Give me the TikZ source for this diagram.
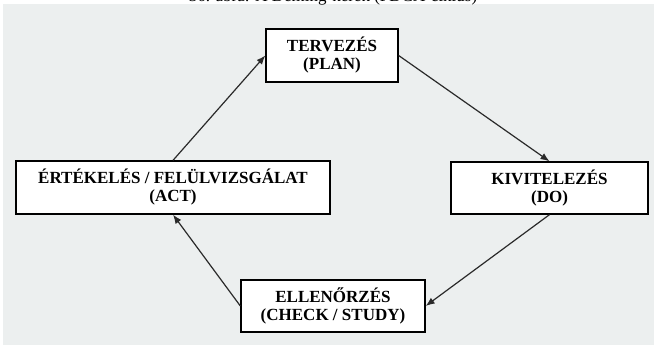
\documentclass[tikz,border=0pt]{standalone}
\usepackage{fontspec}
\setmainfont{Liberation Serif}
\usetikzlibrary{arrows.meta}
\definecolor{bggray}{HTML}{ECEFEF}
\definecolor{linegray}{HTML}{2A2A2A}
\tikzset{
  stagebox/.style={draw=black, line width=1.3pt, fill=white, inner sep=0pt,
    align=center, font=\bfseries\fontsize{17}{18}\selectfont},
  flow/.style={draw=linegray, line width=1.2pt, -{Latex[length=9pt,width=7pt]}}
}
\begin{document}
\begin{tikzpicture}[x=1pt,y=-1pt]
\useasboundingbox (0,0) rectangle (654,345);
\fill[bggray] (3,4) rectangle (654,345);
\node[anchor=base, font=\fontsize{17}{18}\selectfont, inner sep=0pt] (title) at (333,1.5) {36. ábra: A Deming-kerék (PDCA-ciklus)};
\node[stagebox, minimum width=132pt, minimum height=53pt] (plan) at (332,55.5) {TERVEZÉS\\(PLAN)};
\node[stagebox, minimum width=314pt, minimum height=53pt] (act) at (173,187.5) {ÉRTÉKELÉS / FELÜLVIZSGÁLAT\\(ACT)};
\node[stagebox, minimum width=197pt, minimum height=52pt] (do) at (549.5,188) {KIVITELEZÉS\\(DO)};
\node[stagebox, minimum width=184pt, minimum height=52pt] (check) at (333,306) {ELLENŐRZÉS\\(CHECK / STUDY)};
\draw[flow] (act.north) -- (plan.west);
\draw[flow] (plan.east) -- (do.north);
\draw[flow] (do.south) -- (check.east);
\draw[flow] (check.west) -- (act.south);
\end{tikzpicture}
\end{document}
